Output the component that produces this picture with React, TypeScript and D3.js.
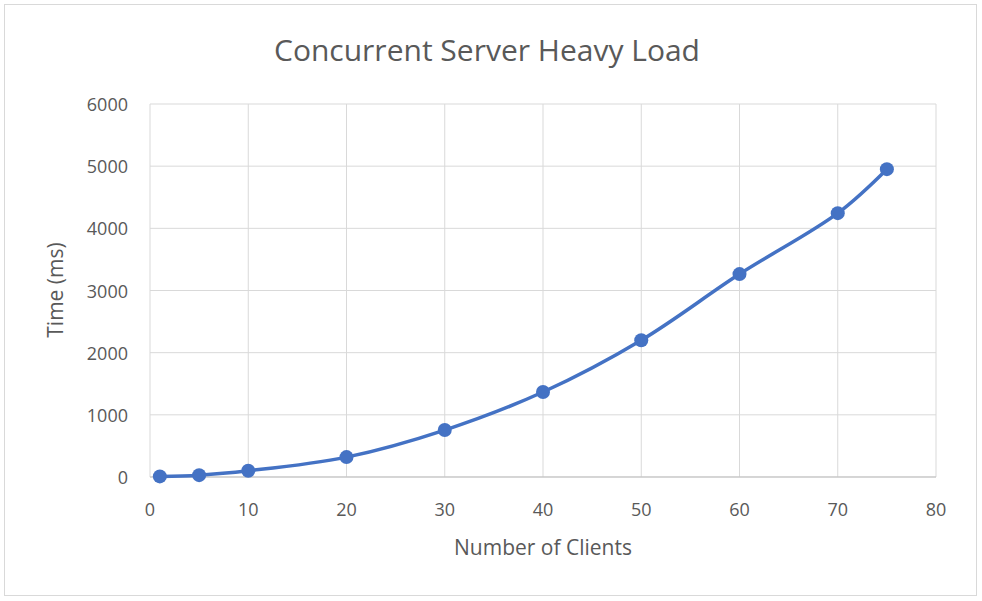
import React from "react";
import * as d3 from "d3";

const clients = [1, 5, 10, 20, 30, 40, 50, 60, 70, 75];
const times = [10, 30, 100, 320, 755, 1367, 2200, 3264, 4244, 4952];
const xTicks = [0, 10, 20, 30, 40, 50, 60, 70, 80];
const yTicks = [0, 1000, 2000, 3000, 4000, 5000, 6000];

export default function App() {
  const W = 982, H = 601;
  const x = d3.scaleLinear().domain([0, 80]).range([150, 936]);
  const y = d3.scaleLinear().domain([0, 6000]).range([477, 104]);
  const pts: [number, number][] = clients.map((c, i) => [x(c), y(times[i])]);
  const line = d3.line().curve(d3.curveCatmullRom.alpha(0.5))(pts) || "";
  const font = "'Open Sans', sans-serif";
  return (
    <svg width={W} height={H} style={{ position: "absolute", left: 0, top: 0 }} fontFamily={font}>
      <rect x={0} y={0} width={W} height={H} fill="#fff" />
      <rect x={4.5} y={4.5} width={972} height={591} fill="none" stroke="#d9d9d9" />
      <text x={487} y={61} textAnchor="middle" fontSize={30} fill="#595959">Concurrent Server Heavy Load</text>
      {xTicks.map(t => (
        <line key={"gx" + t} x1={x(t)} x2={x(t)} y1={104} y2={477} stroke="#d9d9d9" />
      ))}
      {yTicks.map(t => (
        <line key={"gy" + t} x1={150} x2={936} y1={y(t)} y2={y(t)} stroke="#d9d9d9" />
      ))}
      <line x1={150} x2={936} y1={477} y2={477} stroke="#bfbfbf" />
      {xTicks.map(t => (
        <text key={"tx" + t} x={x(t)} y={516} textAnchor="middle" fontSize={18} fill="#595959">{t}</text>
      ))}
      {yTicks.map(t => (
        <text key={"ty" + t} x={128} y={y(t) + 7} textAnchor="end" fontSize={18} fill="#595959">{t}</text>
      ))}
      <text x={543} y={555} textAnchor="middle" fontSize={21} fill="#595959">Number of Clients</text>
      <text transform="translate(63,290) rotate(-90)" textAnchor="middle" fontSize={21} fill="#595959">Time (ms)</text>
      <path d={line} fill="none" stroke="#4472C4" strokeWidth={3.5} />
      {pts.map((p, i) => (
        <circle key={i} cx={p[0]} cy={p[1]} r={7} fill="#4472C4" />
      ))}
    </svg>
  );
}
